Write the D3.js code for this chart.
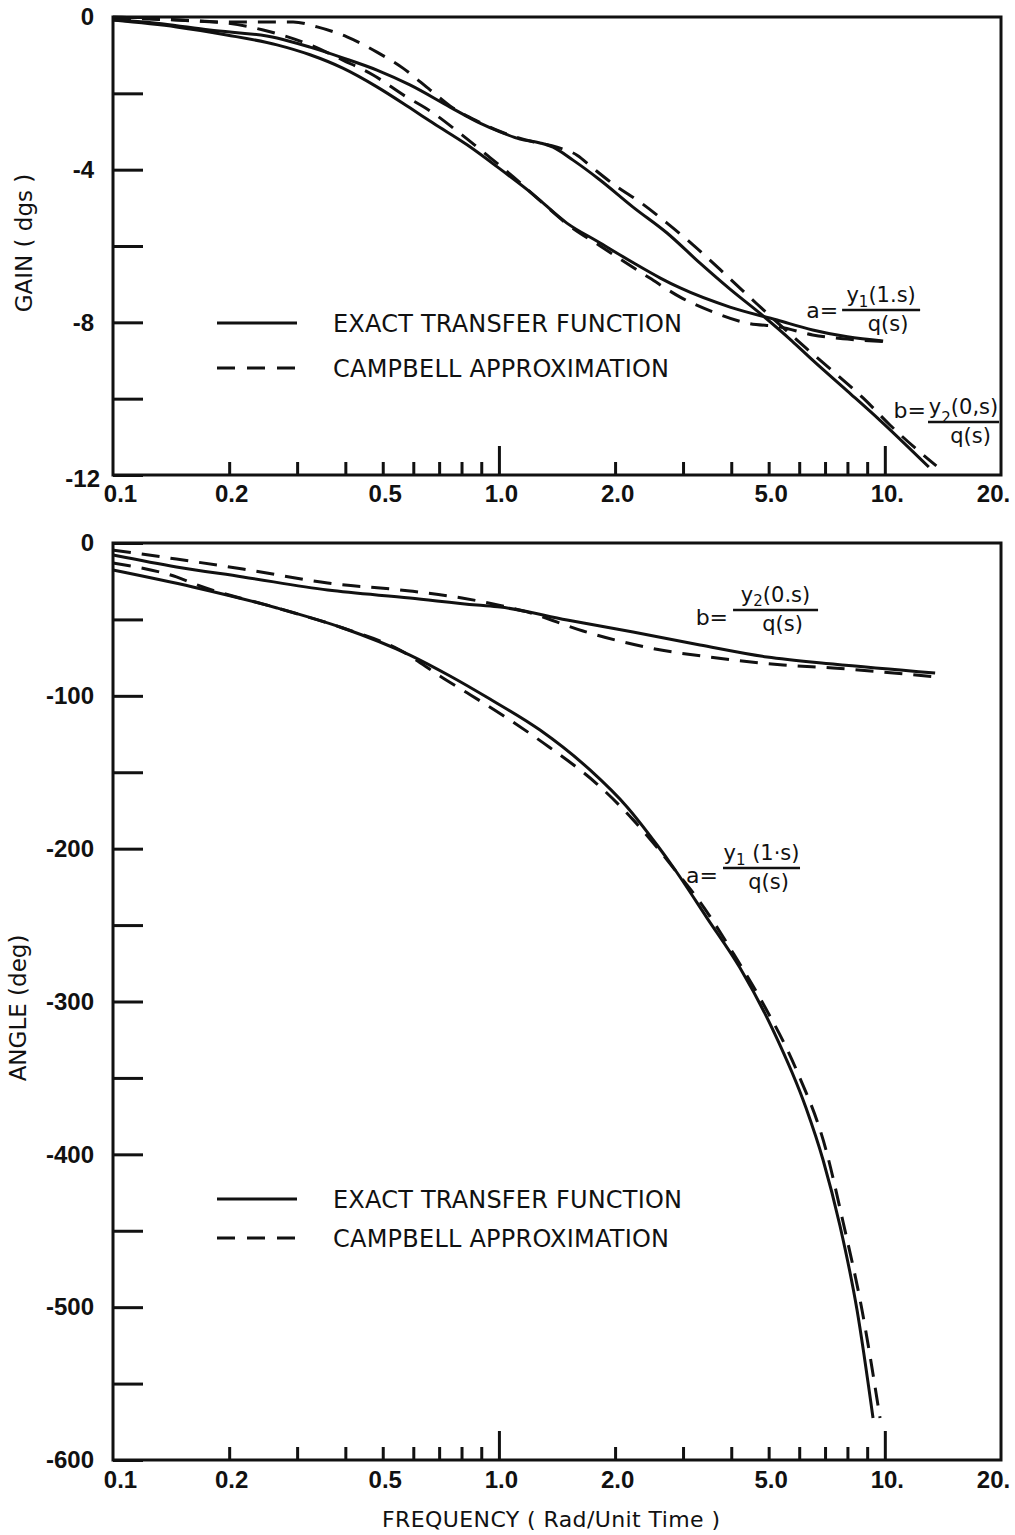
<!DOCTYPE html>
<html>
<head>
<meta charset="utf-8">
<script src="https://cdn.jsdelivr.net/npm/d3@7"></script>
<style>
  html, body { margin: 0; padding: 0; background: #fff; }
  svg text { font-family: "DejaVu Sans", sans-serif; fill: #111; }
  .num text, text.num { font-family: "Liberation Sans", Arial, sans-serif; font-weight: bold; }
</style>
</head>
<body>
<svg id="chart" width="1015" height="1535"></svg>
<script>
// ---------- Gain (dgs) vs frequency ----------
const gainFreqExactA  = [0.1, 0.146, 0.197, 0.266, 0.324, 0.394, 0.483, 0.588, 0.675, 0.827, 1.0, 1.23, 1.5, 1.83, 2.23, 2.62, 2.95, 3.97, 5.26, 6.5, 8.0, 9.9];
const gainExactA      = [-0.08, -0.26, -0.47, -0.73, -0.99, -1.34, -1.83, -2.38, -2.78, -3.35, -3.96, -4.66, -5.40, -5.92, -6.44, -6.84, -7.10, -7.60, -7.94, -8.20, -8.38, -8.49];

const gainFreqApproxA = [0.1, 0.146, 0.197, 0.245, 0.324, 0.394, 0.472, 0.571, 0.663, 0.802, 0.932, 1.09, 1.28, 1.5, 1.83, 2.46, 2.95, 3.59, 4.4, 5.35, 6.5, 8.0, 10.1];
const gainApproxA     = [-0.03, -0.08, -0.16, -0.34, -0.73, -1.13, -1.52, -2.07, -2.46, -3.09, -3.62, -4.19, -4.82, -5.42, -6.00, -6.84, -7.34, -7.73, -8.02, -8.12, -8.33, -8.44, -8.51];

const gainFreqExactB  = [0.1, 0.12, 0.178, 0.266, 0.324, 0.394, 0.483, 0.588, 0.747, 0.893, 1.007, 1.134, 1.278, 1.381, 1.556, 1.828, 2.226, 2.727, 3.32, 3.97, 4.77, 5.75, 6.5, 8.0, 9.7, 13.0];
const gainExactB      = [-0.08, -0.13, -0.34, -0.55, -0.79, -1.07, -1.39, -1.78, -2.36, -2.78, -3.01, -3.20, -3.30, -3.41, -3.75, -4.27, -4.98, -5.66, -6.45, -7.13, -7.78, -8.49, -8.99, -9.80, -10.56, -11.79];

const gainFreqApproxB = [0.1, 0.12, 0.197, 0.293, 0.338, 0.404, 0.483, 0.564, 0.663, 0.747, 0.893, 1.007, 1.226, 1.415, 1.594, 1.753, 2.023, 2.321, 2.727, 3.184, 3.924, 4.665, 6.21, 7.43, 8.78, 10.31, 12.56, 13.6];
const gainApproxB     = [0, -0.03, -0.13, -0.13, -0.26, -0.52, -0.92, -1.34, -1.91, -2.33, -2.76, -3.00, -3.27, -3.41, -3.62, -3.96, -4.45, -4.85, -5.40, -5.97, -6.81, -7.52, -8.65, -9.33, -9.98, -10.69, -11.47, -11.76];

// ---------- Angle (deg) vs frequency ----------
const angleFreqExactA  = [0.1, 0.161, 0.266, 0.394, 0.588, 0.747, 0.948, 1.278, 1.722, 2.148, 2.569, 2.827, 3.463, 4.216, 5.132, 6.25, 6.918, 7.654, 8.472, 9.32];
const angleExactA      = [-17.7, -28.8, -42.5, -55.6, -73.3, -87.0, -102.1, -122.4, -148.5, -172.7, -197.6, -212.0, -245.4, -278.1, -318.7, -369.7, -403.7, -446.9, -501.9, -572.5];

const angleFreqApproxA = [0.1, 0.146, 0.168, 0.266, 0.394, 0.554, 0.716, 0.827, 1.049, 1.357, 1.796, 2.226, 2.538, 2.86, 3.32, 4.044, 4.777, 5.888, 7.042, 7.795, 8.678, 9.718];
const angleApproxA     = [-13.1, -22.2, -28.1, -42.5, -55.6, -70.0, -88.3, -98.0, -114.5, -134.0, -157.7, -181.0, -197.6, -214.0, -234.9, -268.3, -299.0, -344.2, -397.2, -444.3, -498.6, -572.5];

const angleFreqExactB  = [0.1, 0.146, 0.217, 0.36, 0.588, 0.877, 1.007, 1.502, 2.226, 3.32, 4.952, 7.34, 13.5];
const angleExactB      = [-7.9, -15.7, -22.2, -30.8, -36.0, -40.6, -41.9, -50.4, -58.2, -66.7, -74.6, -79.2, -85.1];

const angleFreqApproxB = [0.1, 0.146, 0.217, 0.36, 0.588, 0.802, 1.007, 1.183, 1.652, 2.464, 3.674, 5.448, 7.34, 13.66];
const angleApproxB     = [-4.6, -10.5, -17.0, -26.2, -31.4, -36.0, -40.8, -45.1, -57.6, -68.7, -75.2, -79.8, -81.8, -87.7];

// ---------- Axis ticks and labels ----------
const freqMinorTicks = [0.2, 0.3, 0.4, 0.5, 0.6, 0.7, 0.8, 0.9, 2, 3, 4, 5, 6, 7, 8, 9];
const freqMajorTicks = [1, 10];
const freqLabelValues = [0.1, 0.2, 0.5, 1, 2, 5, 10, 20];
const freqLabelText   = ["0.1", "0.2", "0.5", "1.0", "2.0", "5.0", "10.", "20."];
const gainTicks  = [0, -2, -4, -6, -8, -10, -12];
const gainLabelled  = [0, -4, -8, -12];
const angleTicks = [0, -50, -100, -150, -200, -250, -300, -350, -400, -450, -500, -550, -600];
const angleLabelled = [0, -100, -200, -300, -400, -500, -600];

const legendNames = ["EXACT TRANSFER FUNCTION", "CAMPBELL APPROXIMATION"];

// ---------- Layout ----------
const svg = d3.select("#chart");
const INK = "#111";
const DASH = "18 11";

const x = d3.scaleLog().domain([0.1, 20]).range([113, 1001]);
const yGain  = d3.scaleLinear().domain([0, -12]).range([17, 475]);
const yAngle = d3.scaleLinear().domain([0, -600]).range([543, 1460]);

function drawPanel(y, cfg) {
  const g = svg.append("g");
  const [top, bottom] = y.range();
  const [left, right] = x.range();

  // y axis: inward ticks, labels on every other tick
  const yAxis = d3.axisLeft(y)
    .tickValues(cfg.yTicks)
    .tickSize(-30)
    .tickPadding(19)
    .tickFormat(v => cfg.yLabelled.includes(v) ? String(v) : "");
  const ya = g.append("g").attr("class", "num").attr("transform", `translate(${left},0)`).call(yAxis);
  ya.select(".domain").remove();
  ya.selectAll("line").attr("stroke", INK).attr("stroke-width", 3);
  ya.selectAll("text").attr("font-size", 24).attr("fill", INK);
  if (cfg.lastLabelShift) {
    ya.selectAll(".tick").filter(d => d === cfg.yTicks[cfg.yTicks.length - 1])
      .select("text").attr("x", -19 + cfg.lastLabelShift[0]).attr("dy", null)
      .attr("y", cfg.lastLabelShift[1]);
  }

  // x axis: minor and decade ticks pointing up
  const xMinor = d3.axisBottom(x).tickValues(freqMinorTicks).tickSize(-13).tickFormat("");
  const xMajor = d3.axisBottom(x).tickValues(freqMajorTicks).tickSize(-29).tickFormat("");
  [xMinor, xMajor].forEach(ax => {
    const a = g.append("g").attr("transform", `translate(0,${bottom})`).call(ax);
    a.select(".domain").remove();
    a.selectAll("line").attr("stroke", INK).attr("stroke-width", 3);
  });
  const xLab = d3.axisBottom(x).tickValues(freqLabelValues).tickSize(0).tickPadding(cfg.xLabelPad)
    .tickFormat((d, i) => freqLabelText[i]);
  const xl = g.append("g").attr("class", "num").attr("transform", `translate(0,${bottom})`).call(xLab);
  xl.select(".domain").remove();
  xl.selectAll("text").attr("font-size", 24).attr("fill", INK)
    .attr("dx", (d, i) => i === 0 ? 7 : (i === freqLabelValues.length - 1 ? -8 : 2));

  // frame
  g.append("rect").attr("x", left).attr("y", top)
    .attr("width", right - left).attr("height", bottom - top)
    .attr("fill", "none").attr("stroke", INK).attr("stroke-width", 3);

  // curves
  const line = d3.line().x(d => x(d[0])).y(d => y(d[1])).curve(d3.curveMonotoneX);
  cfg.series.forEach(s => {
    g.append("path").datum(d3.zip(s.freq, s.val))
      .attr("d", line)
      .attr("fill", "none").attr("stroke", INK).attr("stroke-width", 3)
      .attr("stroke-linejoin", "round")
      .attr("stroke-dasharray", s.dashed ? DASH : null);
  });

  // legend
  cfg.legendY.forEach((ly, i) => {
    g.append("line").attr("x1", 217).attr("x2", 297).attr("y1", ly).attr("y2", ly)
      .attr("stroke", INK).attr("stroke-width", 3.2)
      .attr("stroke-dasharray", i === 1 ? "18 12" : null);
    g.append("text").attr("x", 333).attr("y", ly + 9)
      .attr("font-size", 24)
      .attr("textLength", i === 0 ? 349 : 336).attr("lengthAdjust", "spacing")
      .text(legendNames[i]);
  });

  // curve identification fractions
  cfg.labels.forEach(l => {
    const bx = x(l.f), by = y(l.v), cx = bx + l.barW / 2;
    const lg = g.append("g");
    lg.append("line").attr("x1", bx).attr("x2", bx + l.barW).attr("y1", by).attr("y2", by)
      .attr("stroke", INK).attr("stroke-width", 2.5);
    lg.append("text").attr("x", bx - l.lhsGap).attr("y", by + l.lhsDy)
      .attr("text-anchor", "end").attr("font-size", 22).text(l.lhs + "=");
    const num = lg.append("text").attr("x", cx).attr("y", by - 8)
      .attr("text-anchor", "middle").attr("font-size", 21);
    num.append("tspan").text("y");
    num.append("tspan").attr("font-size", 15).attr("dy", l.subDy).text(l.sub);
    num.append("tspan").attr("dy", -l.subDy).text(l.rest);
    lg.append("text").attr("x", cx + 7).attr("y", by + 21)
      .attr("text-anchor", "middle").attr("font-size", 21).text("q(s)");
  });
}

drawPanel(yGain, {
  yTicks: gainTicks, yLabelled: gainLabelled, lastLabelShift: [6, 11],
  xLabelPad: 10,
  legendY: [323, 368],
  series: [
    { freq: gainFreqExactA,  val: gainExactA,  dashed: false },
    { freq: gainFreqApproxA, val: gainApproxA, dashed: true },
    { freq: gainFreqExactB,  val: gainExactB,  dashed: false },
    { freq: gainFreqApproxB, val: gainApproxB, dashed: true }
  ],
  labels: [
    { f: 7.75,  v: -7.68,  barW: 78, lhs: "a", lhsDy: 8,  lhsGap: 4, sub: "1", subDy: 5, rest: "(1.s)" },
    { f: 12.94, v: -10.61, barW: 71, lhs: "b", lhsDy: -4, lhsGap: 2, sub: "2", subDy: 9, rest: "(0,s)" }
  ]
});

drawPanel(yAngle, {
  yTicks: angleTicks, yLabelled: angleLabelled, lastLabelShift: null,
  xLabelPad: 11,
  legendY: [1199, 1238],
  series: [
    { freq: angleFreqExactA,  val: angleExactA,  dashed: false },
    { freq: angleFreqApproxA, val: angleApproxA, dashed: true },
    { freq: angleFreqExactB,  val: angleExactB,  dashed: false },
    { freq: angleFreqApproxB, val: angleApproxB, dashed: true }
  ],
  labels: [
    { f: 4.043, v: -43.84,  barW: 85, lhs: "b", lhsDy: 15, lhsGap: 5, sub: "2", subDy: 4, rest: "(0.s)" },
    { f: 3.808, v: -212.65, barW: 77, lhs: "a", lhsDy: 15, lhsGap: 5, sub: "1", subDy: 5, rest: " (1·s)" }
  ]
});

// axis titles
svg.append("text").attr("transform", "translate(32,243) rotate(-90)")
  .attr("text-anchor", "middle").attr("font-size", 23).text("GAIN ( dgs )");
svg.append("text").attr("transform", "translate(26,1008) rotate(-90)")
  .attr("text-anchor", "middle").attr("font-size", 23).text("ANGLE (deg)");
svg.append("text").attr("x", 551).attr("y", 1527)
  .attr("text-anchor", "middle").attr("font-size", 22)
  .attr("textLength", 338).attr("lengthAdjust", "spacing")
  .text("FREQUENCY ( Rad/Unit Time )");
</script>
</body>
</html>
